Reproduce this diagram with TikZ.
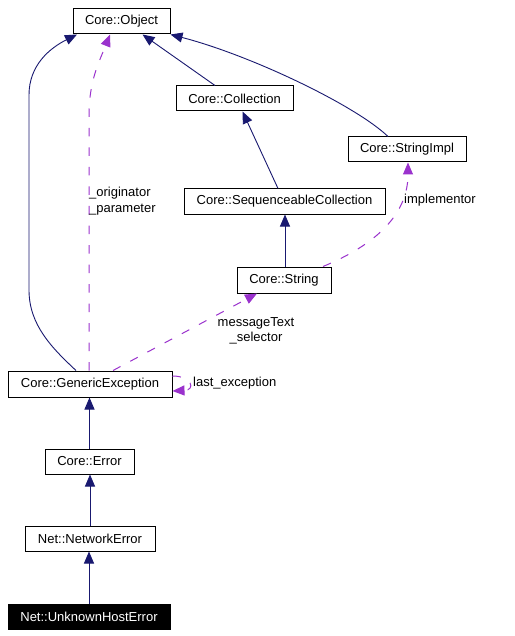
\documentclass[tikz,border=0pt]{standalone}
\usepackage{fontspec}
\setmainfont{Liberation Sans}
\usetikzlibrary{arrows.meta}
\definecolor{navyc}{HTML}{191970}
\definecolor{purplec}{HTML}{9A32CD}
\tikzset{
  cls/.style={draw=black, line width=1pt, fill=white, inner sep=0pt, minimum height=25pt, font=\fontsize{13}{15.6}\selectfont},
  inh/.style={draw=navyc, line width=0.9pt, arrows={-{Triangle[length=12pt,width=10pt,fill=navyc]}}},
  use/.style={draw=purplec, line width=1pt, dash pattern=on 8.5pt off 11pt, -{Triangle[length=12pt,width=10pt,fill=purplec]}},
  lbl/.style={inner sep=0pt, font=\fontsize{13}{15.6}\selectfont}
}
\begin{document}
\begin{tikzpicture}[x=1pt,y=-1pt]
\useasboundingbox[fill=white] (0,0) rectangle (514,636);
\node[cls, minimum width=97pt] (obj) at (121.5,21.5) {Core::Object};
\node[cls, minimum width=117pt] (coll) at (234.5,98.5) {Core::Collection};
\node[cls, minimum width=118pt] (simpl) at (407,149.5) {Core::StringImpl};
\node[cls, minimum width=201pt] (seq) at (284.5,201.5) {Core::SequenceableCollection};
\node[cls, minimum width=94pt, minimum height=26pt] (str) at (284,280) {Core::String};
\node[cls, minimum width=164pt, minimum height=26pt] (ge) at (90,384) {Core::GenericException};
\node[cls, minimum width=89pt] (err) at (89.5,461.5) {Core::Error};
\node[cls, minimum width=130pt] (net) at (90,538.5) {Net::NetworkError};
\node[cls, minimum width=162pt, fill=black, text=white] (unk) at (89,616.5) {Net::UnknownHostError};

% inheritance
\draw[inh] ([xshift=-14pt]ge.north) .. controls (52,348) and (29,325) .. (29,290) -- (29,95) .. controls (29,65) and (50,48) .. ([xshift=-44.5pt]obj.south);
\draw[inh] ([xshift=-19.5pt]coll.north) -- ([xshift=21pt]obj.south);
\draw[inh] ([xshift=-19pt]simpl.north) .. controls (355,105) and (250,55) .. (obj.south east);
\draw[inh] ([xshift=-6.5pt]seq.north) -- ([xshift=8pt]coll.south);
\draw[inh] ([xshift=1pt]str.north) -- ([xshift=1pt]str.north |- seq.south);
\draw[inh] (err.north) -- (err.north |- ge.south);
\draw[inh] (net.north) -- (net.north |- err.south);
\draw[inh] (unk.north) -- (unk.north |- net.south);

% usage
\draw[use] ([xshift=-1pt]ge.north) -- (89,115) .. controls (89,80) and (100,60) .. ([xshift=-11.5pt]obj.south);
\node[lbl, anchor=west, align=left] (lorig) at (89,201) {\_originator\\\_parameter};
\draw[use] ([xshift=39pt]str.north) .. controls (375,245) and (408,215) .. ([xshift=1pt]simpl.south);
\node[lbl, anchor=west] (limpl) at (404,200) {implementor};
\draw[use] ([xshift=23pt]ge.north) -- ([xshift=-27pt]str.south);
\node[lbl, align=center] (lmsg) at (256,331) {messageText\\\_selector};
\draw[use] ([yshift=8pt]ge.east) .. controls (192,376) and (196,390) .. ([yshift=-7pt]ge.east);
\node[lbl, anchor=west] (lexc) at (193,383) {last\_exception};
\end{tikzpicture}
\end{document}
